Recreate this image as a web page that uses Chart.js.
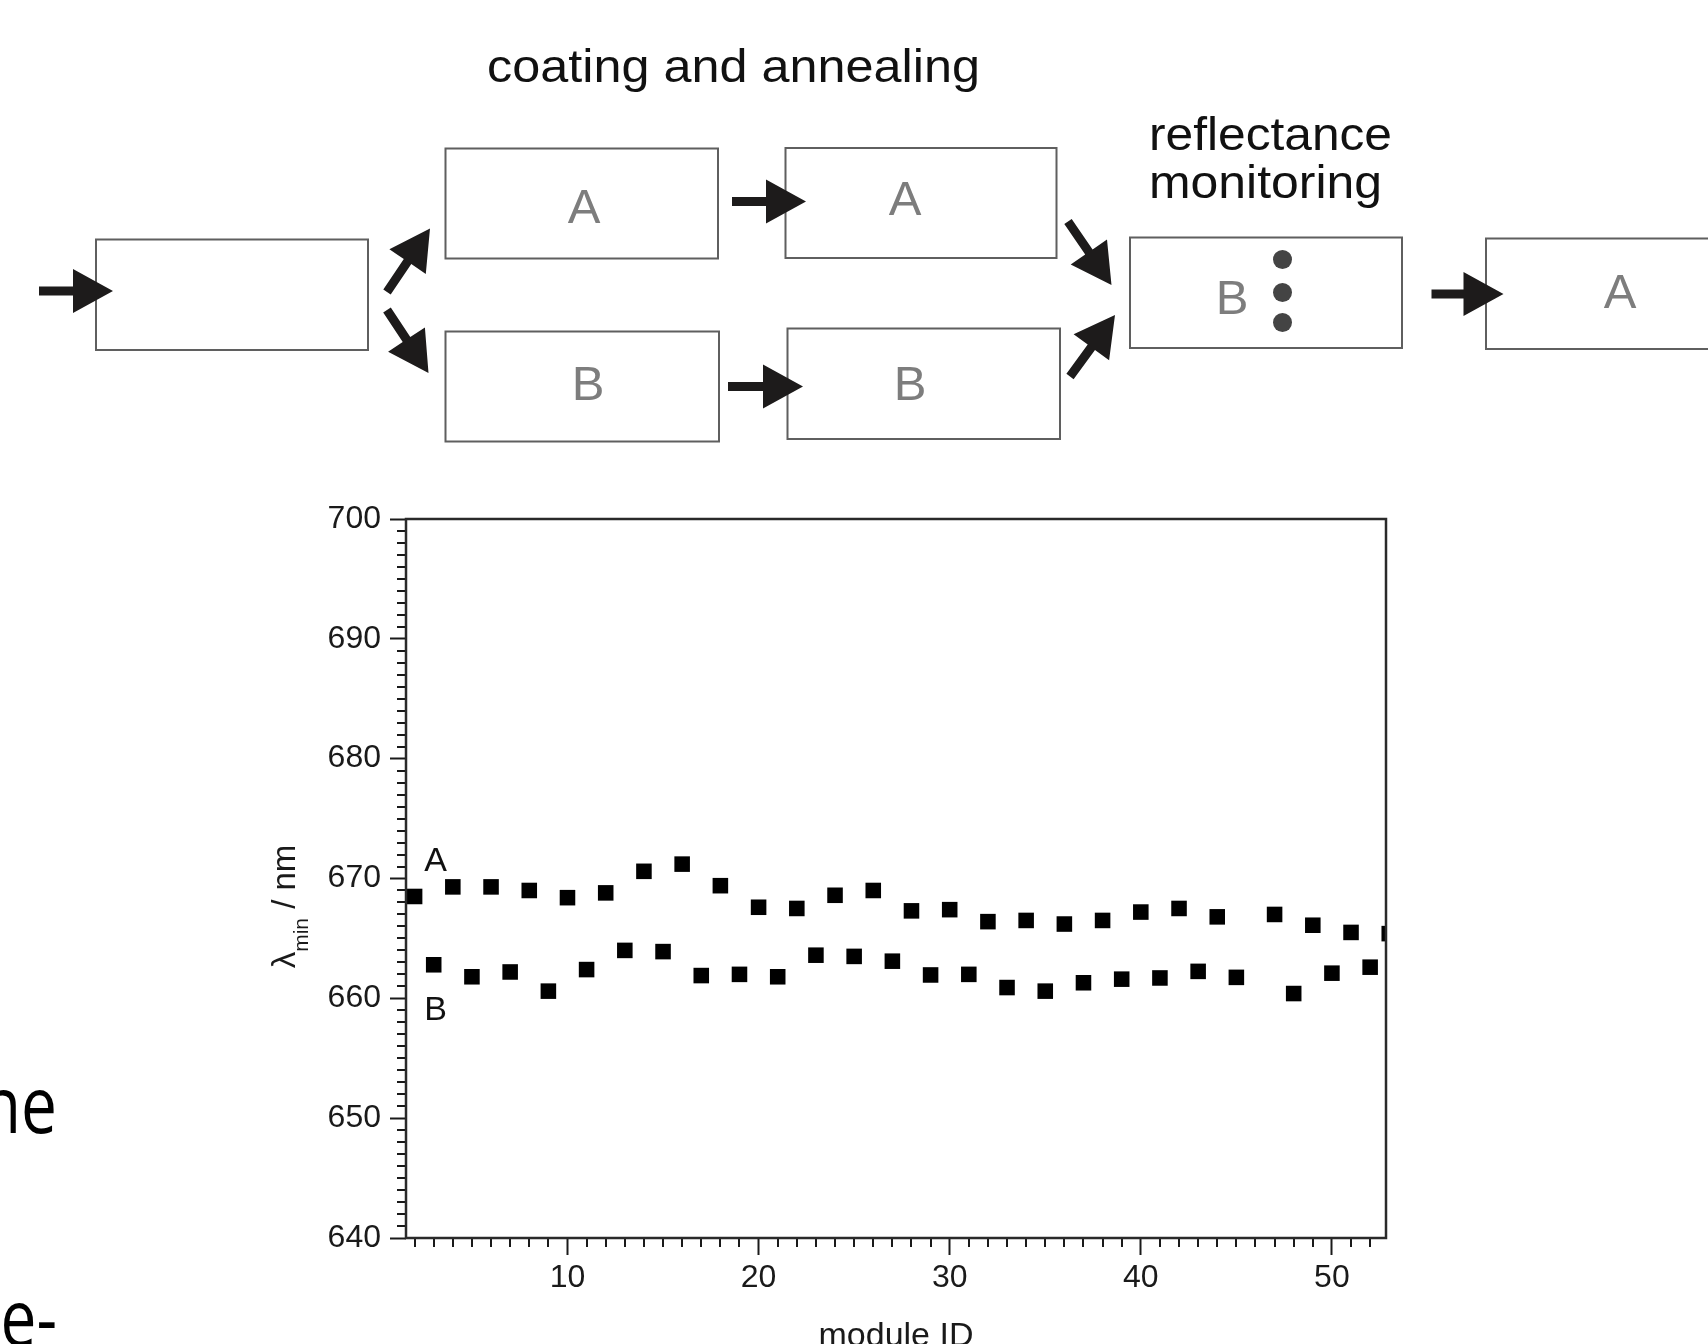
<!DOCTYPE html>
<html>
<head>
<meta charset="utf-8">
<script src="https://cdn.jsdelivr.net/npm/chart.js@4.4.1/dist/chart.umd.min.js"></script>
<style>
html, body { margin: 0; padding: 0; background: #fff; }
#wrap { position: relative; width: 1708px; height: 1344px; overflow: hidden; background: #fff; }
#c { position: absolute; left: 0; top: 0; width: 1708px; height: 1400px; }
#ov { position: absolute; left: 0; top: 0; pointer-events: none; }
</style>
</head>
<body>
<div id="wrap">
  <canvas id="c" width="1708" height="1400"></canvas>
  <svg id="ov" width="1708" height="1344" xmlns="http://www.w3.org/2000/svg"></svg>
</div>
<script>
// ---- chart data ----
const moduleIdsA = [2, 4, 6, 8, 10, 12, 14, 16, 18, 20, 22, 24, 26, 28, 30, 32, 34, 36, 38, 40, 42, 44, 47, 49, 51, 53];
const lambdaA    = [668.5, 669.3, 669.3, 669.0, 668.4, 668.8, 670.6, 671.2, 669.4, 667.6, 667.5, 668.6, 669.0,
                    667.3, 667.4, 666.4, 666.5, 666.2, 666.5, 667.2, 667.5, 666.8, 667.0, 666.1, 665.5, 665.4];
const moduleIdsB = [3, 5, 7, 9, 11, 13, 15, 17, 19, 21, 23, 25, 27, 29, 31, 33, 35, 37, 39, 41, 43, 45, 48, 50, 52];
const lambdaB    = [662.8, 661.8, 662.2, 660.6, 662.4, 664.0, 663.9, 661.9, 662.0, 661.8, 663.6, 663.5, 663.1,
                    661.95, 662.0, 660.9, 660.6, 661.3, 661.6, 661.7, 662.25, 661.75, 660.4, 662.1, 662.6];
const xTickValues = [10, 20, 30, 40, 50];
const yTickValues = [640, 650, 660, 670, 680, 690, 700];
const seriesTags = ['A', 'B'];
const seriesTagAnchors = [{ x: 3.1, y: 671.4 }, { x: 3.1, y: 659.0 }];
const xAxisTitle = 'module ID';
const yAxisTitleParts = ['\u03BB', 'min', ' / nm'];

// ---- diagram text ----
const diagramTitle = 'coating and annealing';
const monitorTitle = ['reflectance', 'monitoring'];

const FONT = "'Liberation Sans', Arial, Helvetica, sans-serif";
const INK = '#1a1a1a';

const toPoints = (xs, ys) => xs.map((x, i) => ({ x: x, y: ys[i] }));

const decorPlugin = {
  id: 'decor',
  afterDraw(chart) {
    const ctx = chart.ctx;
    const a = chart.chartArea;
    const xs = chart.scales.x, ys = chart.scales.y;
    ctx.save();
    // minor ticks
    ctx.strokeStyle = INK;
    ctx.lineWidth = 2;
    ctx.beginPath();
    for (let v = Math.ceil(xs.min); v <= xs.max; v++) {
      if (v % 10 === 0) continue;
      const px = Math.round(xs.getPixelForValue(v));
      ctx.moveTo(px, a.bottom);
      ctx.lineTo(px, a.bottom + 9);
    }
    for (let v = Math.ceil(ys.min); v <= ys.max; v++) {
      if (v % 10 === 0) continue;
      const py = Math.round(ys.getPixelForValue(v));
      ctx.moveTo(a.left - 9, py);
      ctx.lineTo(a.left, py);
    }
    ctx.stroke();
    // frame
    ctx.lineWidth = 2.5;
    ctx.strokeStyle = '#2a2a2a';
    ctx.strokeRect(a.left, a.top, a.right - a.left, a.bottom - a.top);
    // series tags
    ctx.fillStyle = '#111';
    ctx.font = '34px ' + FONT;
    ctx.textAlign = 'center';
    ctx.textBaseline = 'middle';
    seriesTags.forEach((t, i) => {
      ctx.fillText(t, xs.getPixelForValue(seriesTagAnchors[i].x), ys.getPixelForValue(seriesTagAnchors[i].y));
    });
    // y axis title with subscript
    const mainF = '33px ' + FONT, subF = '21px ' + FONT;
    ctx.font = mainF; const w0 = ctx.measureText(yAxisTitleParts[0]).width;
    ctx.font = subF;  const w1 = ctx.measureText(yAxisTitleParts[1]).width;
    ctx.font = mainF; const w2 = ctx.measureText(yAxisTitleParts[2]).width;
    const total = w0 + w1 + w2;
    const cx = a.left - 111, cy = (a.top + a.bottom) / 2 + 28;
    ctx.translate(cx, cy + total / 2);
    ctx.rotate(-Math.PI / 2);
    ctx.textAlign = 'left';
    ctx.textBaseline = 'alphabetic';
    ctx.fillStyle = INK;
    ctx.font = mainF; ctx.fillText(yAxisTitleParts[0], 0, 0);
    ctx.font = subF;  ctx.fillText(yAxisTitleParts[1], w0, 13);
    ctx.font = mainF; ctx.fillText(yAxisTitleParts[2], w0 + w1, 0);
    ctx.restore();
  }
};

new Chart(document.getElementById('c').getContext('2d'), {
  type: 'scatter',
  data: {
    datasets: [
      { label: seriesTags[0], data: toPoints(moduleIdsA, lambdaA), pointStyle: 'rect', pointRadius: 11,
        pointHoverRadius: 11, backgroundColor: '#000', borderColor: '#000', borderWidth: 0, clip: 0 },
      { label: seriesTags[1], data: toPoints(moduleIdsB, lambdaB), pointStyle: 'rect', pointRadius: 11,
        pointHoverRadius: 11, backgroundColor: '#000', borderColor: '#000', borderWidth: 0, clip: 0 }
    ]
  },
  options: {
    responsive: false,
    animation: false,
    devicePixelRatio: 1,
    events: [],
    layout: { padding: { top: 519, right: 322, left: 0, bottom: 0 } },
    plugins: { legend: { display: false }, tooltip: { enabled: false } },
    scales: {
      x: {
        type: 'linear', min: 1.55, max: 52.83,
        afterFit: s => { s.height = 162; },
        afterBuildTicks: s => { s.ticks = xTickValues.map(v => ({ value: v })); },
        ticks: { font: { family: FONT, size: 32 }, color: INK, padding: 4, maxRotation: 0, autoSkip: false,
                 callback: v => String(v) },
        grid: { drawOnChartArea: false, drawTicks: true, tickLength: 17, tickWidth: 2, tickColor: INK },
        border: { display: false },
        title: { display: true, text: xAxisTitle, font: { family: FONT, size: 34 }, color: INK,
                 padding: { top: 0, bottom: 43 } }
      },
      y: {
        type: 'linear', min: 640, max: 700,
        afterFit: s => { s.width = 406; },
        afterBuildTicks: s => { s.ticks = yTickValues.map(v => ({ value: v })); },
        ticks: { font: { family: FONT, size: 32 }, color: INK, padding: 9, autoSkip: false,
                 callback: v => String(v) },
        grid: { drawOnChartArea: false, drawTicks: true, tickLength: 16, tickWidth: 2, tickColor: INK },
        border: { display: false },
        title: { display: false }
      }
    }
  },
  plugins: [decorPlugin]
});

// ---- process diagram (SVG overlay) ----
const svg = document.getElementById('ov');
const NS = 'http://www.w3.org/2000/svg';
function el(tag, attrs, text) {
  const e = document.createElementNS(NS, tag);
  for (const k in attrs) e.setAttribute(k, attrs[k]);
  if (text !== undefined) e.textContent = text;
  svg.appendChild(e);
  return e;
}
const boxes = [
  [96, 239.5, 272, 110.5, ''],
  [445.5, 148.5, 272.5, 110, 'A'],
  [785.5, 148, 271, 110, 'A'],
  [445.5, 331.5, 273.5, 110, 'B'],
  [787.5, 328.5, 272.5, 110.5, 'B'],
  [1130, 237.5, 272, 110.5, 'B'],
  [1486, 238.5, 260, 110.5, 'A']
];
const letterPos = [null, [584, 223], [905, 215], [588, 400], [910, 400], [1232, 314], [1620, 308]];
boxes.forEach((b, i) => {
  el('rect', { x: b[0], y: b[1], width: b[2], height: b[3], fill: 'none', stroke: '#5f5f5f', 'stroke-width': 2 });
  if (b[4]) el('text', { x: letterPos[i][0], y: letterPos[i][1], 'text-anchor': 'middle', 'font-family': FONT,
    'font-size': 49, fill: '#7d7d7d' }, b[4]);
});
[[1282.5, 259.5], [1282.5, 292.5], [1282.5, 322.5]].forEach(p => el('circle', { cx: p[0], cy: p[1], r: 9.5, fill: '#444' }));

function arrow(x1, y1, x2, y2) {
  const dx = x2 - x1, dy = y2 - y1, len = Math.hypot(dx, dy);
  const ux = dx / len, uy = dy / len, nx = -uy, ny = ux;
  const L = 40, H = 22, w = 4.5;
  const bx = x2 - ux * L, by = y2 - uy * L;
  const pts = [
    [x1 + nx * w, y1 + ny * w], [bx + nx * w, by + ny * w], [bx + nx * H, by + ny * H], [x2, y2],
    [bx - nx * H, by - ny * H], [bx - nx * w, by - ny * w], [x1 - nx * w, y1 - ny * w]
  ];
  el('polygon', { points: pts.map(p => p[0].toFixed(1) + ',' + p[1].toFixed(1)).join(' '), fill: '#1d1b1b' });
}
arrow(39, 291, 113, 291);
arrow(387, 292, 430, 228.5);
arrow(387, 310, 428.5, 373);
arrow(732, 201.5, 806, 201.5);
arrow(728, 386.5, 803, 386.5);
arrow(1068, 221.5, 1111.5, 285);
arrow(1070, 376.5, 1115, 315);
arrow(1431.5, 294, 1503.5, 294);

el('text', { x: 487, y: 82, 'font-family': FONT, 'font-size': 46, fill: '#111', textLength: 493,
  lengthAdjust: 'spacingAndGlyphs' }, diagramTitle);
el('text', { x: 1149, y: 150, 'font-family': FONT, 'font-size': 46, fill: '#111', textLength: 243,
  lengthAdjust: 'spacingAndGlyphs' }, monitorTitle[0]);
el('text', { x: 1149, y: 198, 'font-family': FONT, 'font-size': 46, fill: '#111', textLength: 233,
  lengthAdjust: 'spacingAndGlyphs' }, monitorTitle[1]);

// ---- cut-off body text of the surrounding page ----
function frag(txt, x, y) {
  el('text', { x: x, y: y, 'text-anchor': 'end', 'font-family': "'Open Sans', 'Noto Sans', sans-serif", 'font-size': 64,
    fill: '#000', transform: 'translate(0,' + y + ') scale(1,1.22) translate(0,' + (-y) + ')' }, txt);
}
frag('ne', 57, 1133);
frag('e-', 57, 1346);
</script>
</body>
</html>
